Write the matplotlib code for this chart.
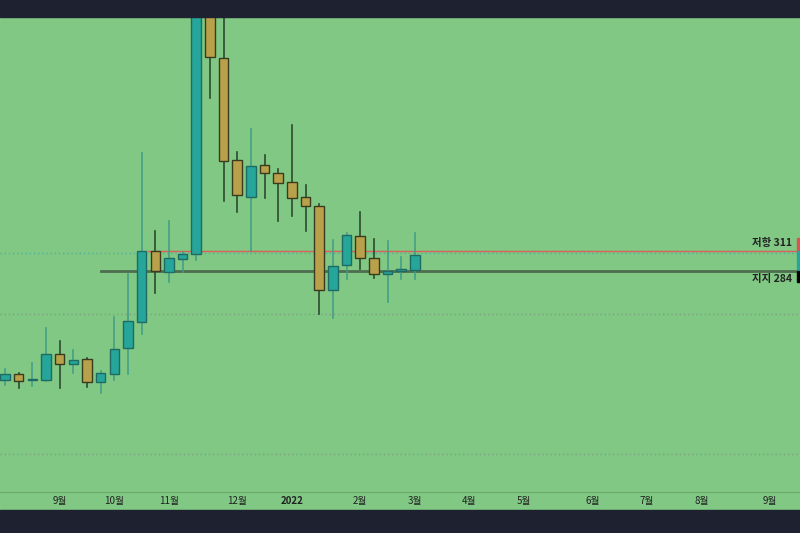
import matplotlib
matplotlib.use("Agg")
import matplotlib.pyplot as plt
import numpy as np
import datetime as dt
from matplotlib.patches import Rectangle

plt.rcParams['font.family'] = ['Noto Sans CJK KR', 'DejaVu Sans']

start = dt.date(2021, 8, 3)
opens  = [136.9,145,137,137,172,158.5,165,134,145,180,215,311,282.7,300,307,663,571.6,434,384,427,416,404,384,371.8,258.4,292,331,301.6,280,284,285.4]
highs  = [151.7,146.3,159.8,207,189.5,177.4,166.5,149,221.9,280,443,338,351.5,309.6,704,700,643,444.7,475.7,440.6,421.7,481,400,374.5,325.9,335.3,363.7,327,324.5,302.9,335.3]
lows   = [130.1,126,128.8,136,126,146.3,127.4,119.3,136.9,145,199,254,269,282.7,298.9,517.5,378.5,363.7,311,382.6,351.5,358,338,226,220.6,273.2,286.7,274.6,242,273.2,273.2]
closes = [145,135.5,138,172,158.5,164,134,146.3,178.7,216.5,311,284,301.5,307,663,573,432.5,386.6,425.8,416,402.8,382.6,371.8,258.4,290.8,332.6,301.6,280,284,286.7,305.6]
support, resistance = 284, 311
grid_levels = [226, 37]
tick_labels = ['9월','10월','11월','12월','2022','2월','3월','4월','5월','6월','7월','8월','9월']
tick_dates = [dt.date(2021,m,1) for m in range(9,13)] + [dt.date(2022,m,1) for m in range(1,10)]

GREEN = '#80c883'
DARK = '#1e2130'
UP = '#26a69a'
DOWN = '#b9a04a'

fig = plt.figure(figsize=(8, 5.33), dpi=100, facecolor=GREEN)
ax = fig.add_axes([0, (533-492)/533, 1, (492-17)/533])
ax.set_facecolor(GREEN)
fig.patches.append(Rectangle((0, (533-17)/533), 1, 17/533, transform=fig.transFigure, color=DARK, zorder=10))
fig.patches.append(Rectangle((0, 0), 1, 23/533, transform=fig.transFigure, color=DARK, zorder=10))

ax.set_xlim(-0.37, 58.2)
ax.set_ylim(-14, 627)

for g in grid_levels:
    ax.axhline(g, color='#7f9f85', ls=(0, (1, 2)), lw=1, zorder=1)
ax.axhline(308, color='#4fb0a0', ls=(0, (1, 2)), lw=1, zorder=1)
ax.plot([7, 58.2], [support]*2, color='#4e6e50', lw=2, zorder=1)
ax.plot([10.5, 58.2], [resistance]*2, color='#d9605a', lw=1, zorder=1)

for i, (o, h, l, c) in enumerate(zip(opens, highs, lows, closes)):
    up = c >= o
    col = UP if up else DOWN
    wcol = '#3f9c88' if up else '#2e4a2e'
    ax.plot([i, i], [l, h], color=wcol, lw=1.2, zorder=2, alpha=0.9 if up else 1)
    bot = min(o, c); ht = max(abs(c - o), 1.5)
    ax.add_patch(Rectangle((i - 0.35, bot), 0.7, ht, facecolor=col,
                           edgecolor='#1f6b63' if up else '#3a3a20', lw=1, zorder=3))

idx = [(d - start).days // 7 for d in tick_dates]
ax.set_xticks(idx)
ax.set_xticklabels(tick_labels, fontsize=7, color='#222222')
for lab in ax.get_xticklabels():
    if lab.get_text() == '2022':
        lab.set_fontweight('bold')
ax.tick_params(axis='x', length=0, pad=3)
ax.set_yticks([])
for s in ['top', 'left', 'right']:
    ax.spines[s].set_visible(False)
ax.spines['bottom'].set_color('#6aa86c')

ax.text(0.99, resistance + 4, '저항 311', transform=ax.get_yaxis_transform(), ha='right', va='bottom', fontsize=7.5, color='#222', fontweight='bold')
ax.text(0.99, support - 4, '지지 284', transform=ax.get_yaxis_transform(), ha='right', va='top', fontsize=7.5, color='#222', fontweight='bold')
ax.add_patch(Rectangle((0.996, resistance), 0.004, 18, transform=ax.get_yaxis_transform(), color='#e05050', zorder=5, clip_on=False))
ax.add_patch(Rectangle((0.996, support), 0.004, resistance - support, transform=ax.get_yaxis_transform(), color=UP, zorder=5, clip_on=False))
ax.add_patch(Rectangle((0.996, support - 15), 0.004, 15, transform=ax.get_yaxis_transform(), color='black', zorder=5, clip_on=False))

fig.savefig('out.png', dpi=100, facecolor=GREEN)
